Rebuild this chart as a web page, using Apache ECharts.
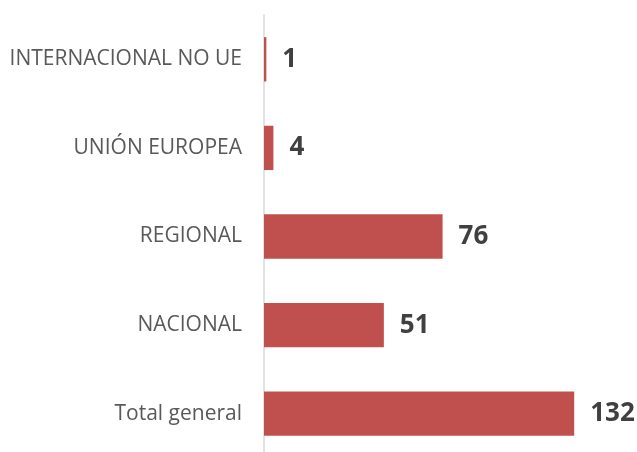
<!DOCTYPE html>
<html><head><meta charset="utf-8">
<script src="https://cdn.jsdelivr.net/npm/echarts@6/dist/echarts.min.js"></script>
<style>html,body{margin:0;padding:0;background:#fff;overflow:hidden;width:637px;height:452px}#c{width:637px;height:462px}</style>
</head><body><div id="c"></div>
<script>
var categories = ['Total general', 'NACIONAL', 'REGIONAL', 'UNIÓN EUROPEA', 'INTERNACIONAL NO UE'];
var values = [132, 51, 76, 4, 1];
var chart = echarts.init(document.getElementById('c'));
chart.setOption({
  animation: false,
  grid: {left: 264, right: 44, top: 15, height: 443},
  xAxis: {type: 'value', min: 0, max: 140, show: false},
  yAxis: {
    type: 'category', data: categories,
    axisLine: {show: true, lineStyle: {color: '#d9d9d9', width: 1.5}},
    axisTick: {show: false},
    axisLabel: {color: '#595959', fontFamily: 'Open Sans', fontSize: 21, margin: 22}
  },
  series: [{
    type: 'bar', data: values, barCategoryGap: '50%',
    itemStyle: {color: '#c0504d'},
    label: {show: true, position: 'right', distance: 16, color: '#404040', fontFamily: 'Open Sans', fontWeight: 'bold', fontSize: 26}
  }]
});
</script></body></html>
